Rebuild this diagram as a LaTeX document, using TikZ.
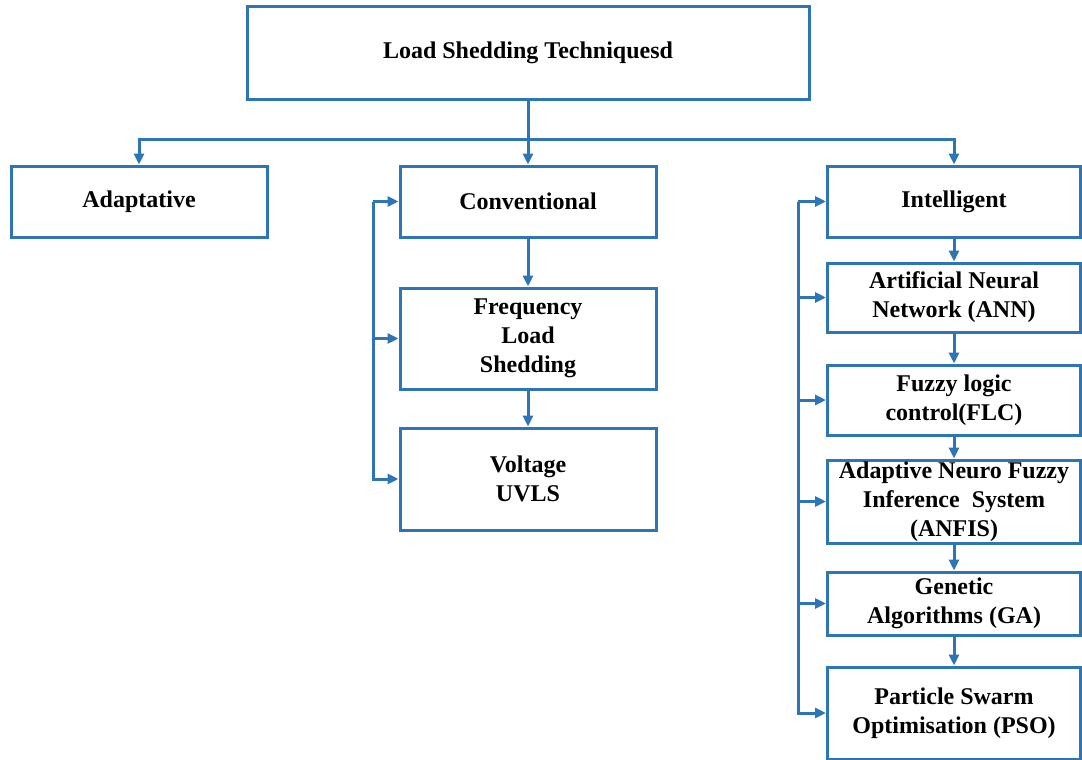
\documentclass[tikz,border=0pt]{standalone}
\usepackage{fontspec}
\setmainfont{Liberation Serif}
\usetikzlibrary{arrows.meta}

\definecolor{lineblue}{RGB}{46,117,182}

\tikzset{
	box/.style = {draw = lineblue, line width = 3pt, align = center, inner sep = 0pt,
		font = \fontsize{24}{29}\selectfont\bfseries},
}

\begin{document}
\begin{tikzpicture}[x = 1pt, y = -1pt, > = {Triangle[length = 11pt, width = 10pt]},
	every path/.style = {line width = 3pt}]

	\useasboundingbox (0, 0) rectangle (1082, 760);

	% Root
	
	\node [box, minimum width = 562pt, minimum height = 92pt] (top) at (528, 53) {Load Shedding Techniquesd};
	
	% First level
	
	\node [box, minimum width = 256pt, minimum height = 71pt] (adapt) at (139, 201.5) {Adaptative};
	\node [box, minimum width = 256pt, minimum height = 71pt] (conv) at (528, 201.5) {Conventional};
	\node [box, minimum width = 253pt, minimum height = 71pt] (intel) at (954, 201.5) {Intelligent};
	
	% Conventional branch
	
	\node [box, minimum width = 256pt, minimum height = 101pt] (freq) at (528, 338.5) {Frequency\\Load\\Shedding};
	\node [box, minimum width = 256pt, minimum height = 102pt] (volt) at (528, 479) {Voltage\\UVLS};
	
	% Intelligent branch
	
	\node [box, minimum width = 253pt, minimum height = 69pt] (ann) at (954, 297.5) {Artificial Neural\\Network (ANN)};
	\node [box, minimum width = 253pt, minimum height = 70pt] (flc) at (954, 400) {Fuzzy logic\\control(FLC)};
	\node [box, minimum width = 253pt, minimum height = 83pt] (anfis) at (954, 501.5) {Adaptive Neuro Fuzzy\\Inference~~System\\(ANFIS)};
	\node [box, minimum width = 253pt, minimum height = 63pt] (ga) at (954, 603.5) {Genetic\\Algorithms (GA)};
	\node [box, minimum width = 253pt, minimum height = 92pt] (pso) at (954, 713) {Particle Swarm\\Optimisation (PSO)};
	
	% Connectors from the root
	
	\coordinate (bus) at (528, 139);
	\draw [->, lineblue] (top) -- (conv);
	\draw [->, lineblue] (bus) -| (adapt);
	\draw [->, lineblue] (bus) -| (intel);
	
	% Conventional connectors
	
	\coordinate (cbus) at (373, 201.5);
	\draw [->, lineblue] (conv) -- (freq);
	\draw [->, lineblue] (freq) -- (volt);
	\draw [->, lineblue] (cbus) -- (conv);
	\draw [->, lineblue] (cbus) |- (freq);
	\draw [->, lineblue] (cbus) |- (volt);
	
	% Intelligent connectors
	
	\coordinate (ibus) at (798, 201.5);
	\draw [->, lineblue] (ibus) -- (intel);
	\draw [->, lineblue] (intel) -- (ann);
	\draw [->, lineblue] (ann) -- (flc);
	\draw [->, lineblue] (flc) -- (anfis);
	\draw [->, lineblue] (anfis) -- (ga);
	\draw [->, lineblue] (ga) -- (pso);
	\foreach \n in {ann, flc, anfis, ga, pso}
		\draw [->, lineblue] (ibus) |- (\n);

\end{tikzpicture}
\end{document}
